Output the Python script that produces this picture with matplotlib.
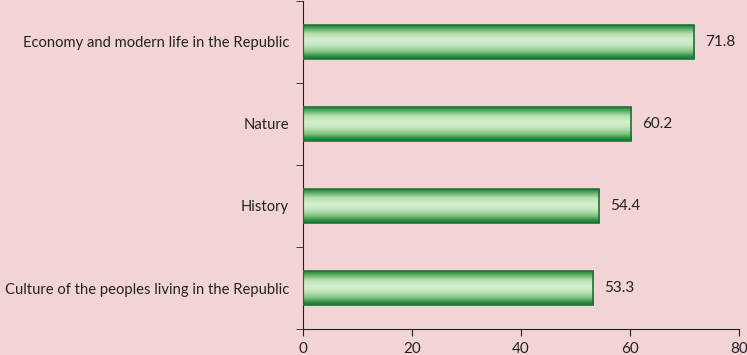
import matplotlib
matplotlib.use("Agg")
import matplotlib.pyplot as plt
import numpy as np
from matplotlib.colors import LinearSegmentedColormap

categories = ["Culture of the peoples living in the Republic", "History", "Nature",
              "Economy and modern life in the Republic"]
values = [53.3, 54.4, 60.2, 71.8]
xticks = [0, 20, 40, 60, 80]

plt.rcParams['font.family'] = ['Lato', 'DejaVu Sans']
bg = '#F2D4D6'
fig = plt.figure(figsize=(7.47, 3.55), dpi=100, facecolor=bg)
ax = fig.add_axes([0.4056, 0.073, 0.5837, 0.925])
ax.set_facecolor(bg)

y = np.arange(len(categories))
bars = ax.barh(y, values, height=0.42, color='none', edgecolor='#1B7534', linewidth=1.2, zorder=3)

cmap = LinearSegmentedColormap.from_list('g', [
    (0.0, '#1B7534'), (0.08, '#2F8C45'), (0.2, '#7CC17E'), (0.38, '#C2E6BC'), (0.55, '#D4EFCD'),
    (0.72, '#B6E0AF'), (0.86, '#5FAE66'), (0.94, '#2F8C45'), (1.0, '#1B7534')])
grad = np.linspace(0, 1, 256).reshape(-1, 1)
for b, v in zip(bars, values):
    x0, y0 = b.get_x(), b.get_y()
    w, h = b.get_width(), b.get_height()
    im = ax.imshow(grad, cmap=cmap, aspect='auto', extent=(x0, x0 + w, y0, y0 + h),
                   origin='lower', zorder=2, interpolation='bilinear')
    im.set_clip_path(b)
    ax.text(v + 2.0, b.get_y() + h / 2, f"{v}", va='center', ha='left', fontsize=11, color='#222222')

ax.set_xlim(0, 80)
ax.set_ylim(-0.5, len(categories) - 0.5)
ax.set_xticks(xticks)
ax.set_xticklabels([str(t) for t in xticks], fontsize=11, color='#222222')
ax.set_yticks(y)
ax.set_yticklabels(categories, fontsize=10.6, color='#222222')
ax.set_yticks(np.arange(-0.5, len(categories), 1), minor=True)
ax.tick_params(axis='y', which='major', length=0, pad=10)
ax.tick_params(axis='y', which='minor', length=5, direction='out', color='#222222')
ax.tick_params(axis='x', length=5, direction='out', color='#222222', pad=4)
for s in ['top', 'right']:
    ax.spines[s].set_visible(False)
for s in ['left', 'bottom']:
    ax.spines[s].set_color('#222222')
ax.set_aspect('auto')
fig.savefig('out.png', dpi=100, facecolor=bg)
